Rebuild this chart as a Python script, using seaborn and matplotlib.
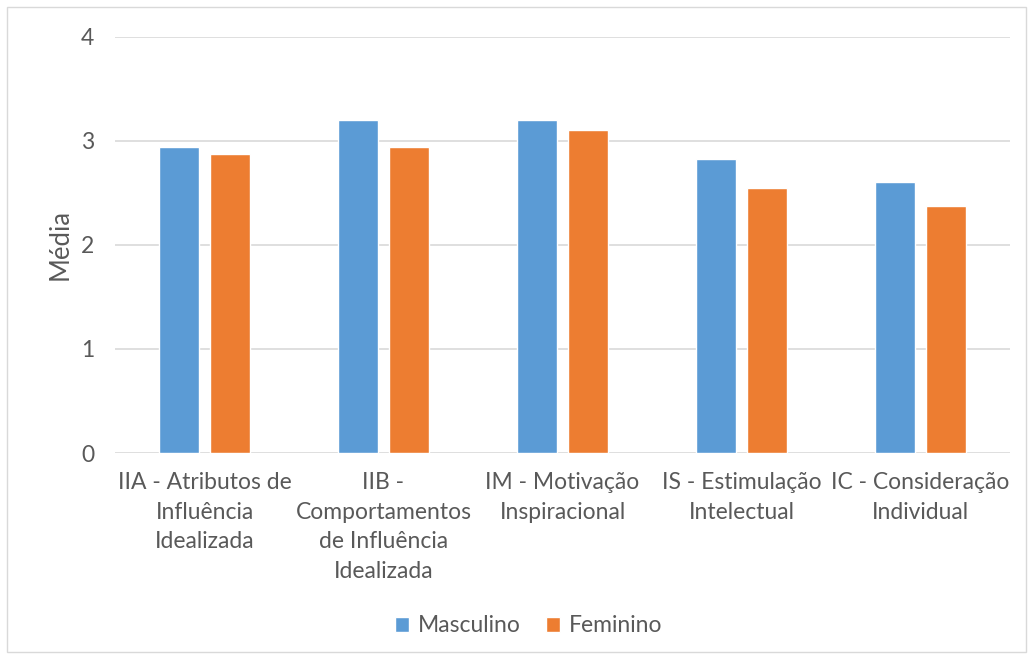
import matplotlib
matplotlib.use("Agg")
import matplotlib.pyplot as plt
import seaborn as sns
import pandas as pd
from matplotlib.patches import Rectangle

categories = [
    "IIA - Atributos de\nInfluência\nIdealizada",
    "IIB -\nComportamentos\nde Influência\nIdealizada",
    "IM - Motivação\nInspiracional",
    "IS - Estimulação\nIntelectual",
    "IC - Consideração\nIndividual",
]
masculino = [2.94, 3.20, 3.20, 2.82, 2.60]
feminino = [2.87, 2.94, 3.10, 2.55, 2.37]
series_names = ["Masculino", "Feminino"]
colors = ["#5B9BD5", "#ED7D31"]

df = pd.DataFrame({
    "categoria": categories * 2,
    "media": masculino + feminino,
    "sexo": [series_names[0]] * len(categories) + [series_names[1]] * len(categories),
})

sns.set_theme(style="white")
plt.rcParams["font.family"] = ["Lato", "DejaVu Sans"]
text_color = "#595959"

fig = plt.figure(figsize=(10.33, 6.59), dpi=100)
ax = fig.add_axes([115 / 1033, 1 - 453 / 659, (1010 - 115) / 1033, (453 - 36.6) / 659])

sns.barplot(data=df, x="categoria", y="media", hue="sexo", palette=colors,
            width=0.564, gap=0.21, saturation=1, ax=ax, legend=True, zorder=3)

ax.set_ylim(0, 4)
ax.set_xlim(-0.5, len(categories) - 0.5)
ax.set_yticks([0, 1, 2, 3, 4])
ax.yaxis.grid(True, color="#D9D9D9", linewidth=1.2, zorder=0)
ax.set_axisbelow(True)
for s in ax.spines.values():
    s.set_visible(False)
ax.tick_params(axis="both", length=0, labelsize=16.5, colors=text_color)
ax.tick_params(axis="y", pad=15)
ax.tick_params(axis="x", pad=14)
for lbl in ax.get_xticklabels():
    lbl.set_linespacing(1.5)
ax.set_xlabel("")
ax.set_ylabel("Média", fontsize=18.5, color=text_color, labelpad=6)

handles, labels = ax.get_legend_handles_labels()
ax.get_legend().remove()
leg = fig.legend(handles, labels, loc="center", bbox_to_anchor=(0.512, 1 - 626 / 659),
                 ncol=2, frameon=False, fontsize=16.5, handlelength=0.6, handleheight=0.6,
                 handletextpad=0.4, columnspacing=1.1)
for t in leg.get_texts():
    t.set_color(text_color)

fig.patches.append(Rectangle((7 / 1033, 7 / 659), 1 - 14 / 1033, 1 - 14 / 659,
                             transform=fig.transFigure, fill=False,
                             edgecolor="#D9D9D9", linewidth=1))

fig.savefig("out.png", dpi=100, facecolor="white")
